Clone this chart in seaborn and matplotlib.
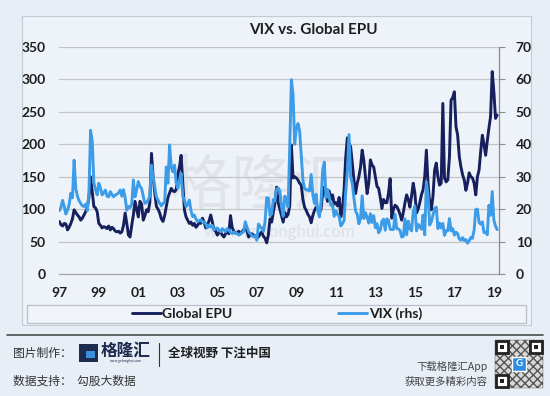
import numpy as np
import pandas as pd
import matplotlib
matplotlib.use("Agg")
import matplotlib.pyplot as plt
from matplotlib.patches import Rectangle
from matplotlib.lines import Line2D
import seaborn as sns

# Monthly values, Jan 1997 - Mar 2019
epu = [
    81, 76, 74, 78, 77, 68, 72, 78, 85, 99, 95, 91,            # 1997
    88, 83, 86, 91, 96, 104, 118, 150, 127, 104, 102, 96,      # 1998
    78, 75, 71, 73, 72, 70, 74, 68, 72, 70, 66, 65,            # 1999
    66, 63, 65, 75, 94, 78, 60, 57, 75, 91, 112, 100,          # 2000
    88, 112, 108, 83, 90, 99, 96, 110, 186, 150, 125, 104,     # 2001
    100, 94, 85, 81, 90, 104, 118, 125, 132, 128, 127, 130,    # 2002
    153, 165, 183, 140, 99, 88, 83, 78, 80, 75, 78, 72,        # 2003
    75, 80, 78, 86, 80, 71, 76, 82, 91, 80, 68, 66,            # 2004
    60, 64, 65, 60, 57, 62, 68, 62, 90, 72, 66, 63,            # 2005
    63, 66, 62, 65, 68, 71, 66, 57, 60, 62, 60, 58,            # 2006
    60, 57, 62, 65, 58, 55, 48, 60, 85, 80, 95, 110,           # 2007
    134, 110, 100, 90, 80, 95, 88, 92, 105, 199, 148, 150,     # 2008
    148, 145, 140, 137, 115, 103, 98, 92, 88, 79, 90, 98,      # 2009
    103, 100, 94, 100, 125, 134, 120, 112, 128, 115, 122, 108, # 2010
    110, 105, 118, 88, 100, 130, 180, 210, 202, 196, 170, 145, # 2011
    124, 140, 150, 165, 191, 175, 150, 124, 140, 176, 168, 165, # 2012
    150, 135, 132, 118, 101, 115, 110, 110, 125, 147, 86, 100, # 2013
    106, 104, 99, 92, 83, 95, 110, 122, 115, 103, 120, 140,    # 2014
    125, 94, 100, 110, 122, 130, 150, 191, 140, 110, 99, 120,  # 2015
    160, 171, 150, 137, 140, 263, 148, 142, 145, 180, 268, 272, # 2016
    281, 227, 214, 181, 165, 153, 145, 129, 140, 156, 150, 148, # 2017
    140, 122, 150, 160, 189, 214, 200, 183, 205, 225, 243, 312, # 2018
    281, 240, 245,                                             # 2019
]
vix = [
    19.5, 20.6, 22.7, 20.8, 18.5, 19.7, 21.5, 24.9, 23.5, 35.1, 26.4, 24.0,  # 1997
    22.6, 21.8, 21.0, 20.8, 21.5, 19.5, 25.0, 44.3, 41.0, 28.1, 26.0, 24.4,  # 1998
    28.0, 26.5, 24.4, 25.0, 25.9, 24.0, 23.8, 25.4, 24.5, 23.8, 24.4, 24.6,  # 1999
    25.0, 25.9, 24.0, 26.0, 23.5, 19.7, 20.8, 20.5, 21.5, 29.0, 23.8, 26.0,  # 2000
    28.5, 27.0, 26.4, 24.0, 21.8, 22.0, 22.8, 24.0, 33.6, 30.0, 26.9, 23.8,  # 2001
    22.8, 21.8, 21.0, 21.8, 22.0, 33.0, 28.0, 39.8, 33.0, 31.5, 33.6, 28.0,  # 2002
    26.4, 29.0, 31.0, 24.0, 22.8, 20.8, 21.5, 22.8, 19.5, 17.7, 18.2, 17.0,  # 2003
    16.1, 16.5, 16.7, 16.0, 16.1, 15.5, 14.2, 15.1, 14.5, 15.0, 13.6, 14.0,  # 2004
    14.2, 13.5, 13.0, 14.0, 13.6, 13.0, 14.0, 13.6, 12.8, 12.5, 13.0, 12.5,  # 2005
    12.5, 12.0, 12.3, 12.8, 13.0, 16.1, 14.5, 13.0, 12.5, 11.8, 11.5, 11.8,  # 2006
    10.4, 15.4, 14.6, 14.2, 13.1, 16.2, 23.5, 23.4, 18.0, 18.5, 22.9, 22.5,  # 2007
    26.2, 26.5, 25.6, 20.8, 17.8, 24.0, 22.9, 20.7, 39.4, 59.9, 55.3, 40.0,  # 2008
    44.8, 46.4, 44.1, 36.5, 28.9, 26.4, 25.9, 26.0, 25.6, 30.7, 24.5, 21.7,  # 2009
    24.6, 19.5, 17.6, 22.1, 32.1, 34.5, 23.5, 26.1, 23.7, 21.2, 21.4, 17.8,  # 2010
    19.5, 18.4, 17.7, 14.8, 15.5, 16.5, 25.3, 31.6, 43.0, 30.0, 27.8, 23.4,  # 2011
    19.4, 18.4, 15.5, 17.2, 24.1, 17.1, 18.9, 17.5, 15.7, 18.6, 15.9, 18.0,  # 2012
    14.3, 15.5, 12.7, 13.5, 16.3, 16.9, 13.5, 17.0, 16.6, 13.8, 13.7, 13.7,  # 2013
    18.4, 14.0, 13.9, 13.4, 11.4, 11.6, 17.0, 12.1, 16.3, 14.0, 13.3, 19.2,  # 2014
    21.0, 13.3, 15.3, 14.6, 13.8, 18.2, 12.1, 28.4, 24.5, 15.1, 16.1, 18.2,  # 2015
    20.2, 20.6, 14.0, 15.7, 14.2, 15.6, 11.9, 13.4, 13.3, 17.1, 13.3, 14.0,  # 2016
    12.0, 12.9, 12.4, 10.8, 10.4, 11.2, 10.3, 10.6, 9.5, 10.2, 11.3, 11.0,   # 2017
    13.5, 19.9, 20.0, 15.9, 15.4, 16.1, 12.8, 12.9, 12.1, 21.2, 18.1, 25.4,  # 2018
    16.6, 14.8, 13.7,                                                        # 2019
]
start_month = "1997-01"
year_ticks = list(range(1997, 2020))
left_ticks = [0, 50, 100, 150, 200, 250, 300, 350]
right_ticks = [0, 10, 20, 30, 40, 50, 60, 70]
series_names = ["Global EPU", "VIX (rhs)"]
title = "VIX vs. Global EPU"

EPU_COLOR = "#16205c"
VIX_COLOR = "#3d9ce8"
TEXT = "#1e1e1e"

sns.set_style("white")
plt.rcParams["font.family"] = ["Lato", "Noto Sans CJK SC", "DejaVu Sans"]
CJK = ["Noto Sans CJK SC", "DejaVu Sans"]

dates = pd.date_range(start_month, periods=len(epu), freq="MS")
df = pd.DataFrame({"date": dates, "epu": epu, "vix": vix})
df["t"] = df["date"].dt.year + (df["date"].dt.month - 1) / 12

W, H = 550, 396


def fx(px):
    return px / W


def fy(py):
    return 1 - py / H


fig = plt.figure(figsize=(W / 100, H / 100), dpi=100)
fig.patch.set_facecolor("#e7eef6")

# chart panel (behind the axes)
fig.patches.append(Rectangle((fx(21.7), fy(325)), (531 - 21.7) / W, (325 - 16) / H,
                             transform=fig.transFigure, facecolor="#eef3f9",
                             edgecolor="#c3cad4", lw=0.8, zorder=-10))

# watermark
fig.text(fx(262), fy(188), "格隆汇", family=CJK, fontsize=44, color="#9a9a9a",
         alpha=0.16, ha="center", va="center", zorder=-5)
fig.text(fx(280), fy(232), "www.gelonghui.com", fontsize=12, weight="bold",
         color="#9a9a9a", alpha=0.16, ha="center", va="center", zorder=-5)

ax = fig.add_axes([fx(59.3), fy(274), (499 - 59.3) / W, (274 - 47) / H])
ax.set_facecolor("none")
sns.lineplot(data=df, x="t", y="epu", ax=ax, color=EPU_COLOR, lw=2.1)

ax2 = ax.twinx()
sns.lineplot(data=df, x="t", y="vix", ax=ax2, color=VIX_COLOR, lw=2.1)

ax.set_xlim(1997, 2019.26)
ax.set_ylim(0, 350)
ax2.set_ylim(0, 70)
ax.set_yticks(left_ticks)
ax2.set_yticks(right_ticks)
ax.set_xticks(year_ticks)
ax.set_xticklabels([f"{y % 100:02d}" if (y - 1997) % 2 == 0 else "" for y in year_ticks])
for a in (ax, ax2):
    a.set_xlabel("")
    a.set_ylabel("")

ax.grid(axis="y", color="#c4c4c4", lw=0.9)
ax.grid(axis="x", visible=False)
ax2.grid(False)

for s in ("top", "left", "right"):
    ax.spines[s].set_visible(False)
ax.spines["bottom"].set_color("#a8a8a8")
ax.spines["bottom"].set_linewidth(0.9)
for s in ("top", "left", "bottom"):
    ax2.spines[s].set_visible(False)
ax2.spines["right"].set_color("#8a8a8a")
ax2.spines["right"].set_linewidth(0.9)

ax.tick_params(axis="y", length=0, pad=10, labelsize=10, labelcolor=TEXT)
ax.tick_params(axis="x", direction="inout", length=5, width=0.8, color="#a8a8a8",
               pad=7, labelsize=10, labelcolor=TEXT)
ax2.tick_params(axis="y", direction="out", length=4, width=0.8, color="#8a8a8a",
                pad=8, labelsize=10, labelcolor=TEXT)
for lab in ax.get_xticklabels() + ax.get_yticklabels() + ax2.get_yticklabels():
    lab.set_fontweight("bold")

fig.text(fx(313), fy(30), title, fontsize=11, weight="bold", color=TEXT,
         ha="center", va="center")

# legend
fig.patches.append(Rectangle((fx(26.7), fy(323)), (526 - 26.7) / W, 18 / H,
                             transform=fig.transFigure, facecolor="#f1f5fa",
                             edgecolor="#b9c0ca", lw=0.9, zorder=-4))
handles = [Line2D([], [], color=EPU_COLOR, lw=2.1), Line2D([], [], color=VIX_COLOR, lw=2.1)]
leg = fig.legend(handles, series_names, loc="center", bbox_to_anchor=(fx(277), fy(314)),
                 ncol=2, frameon=False, fontsize=10, handlelength=2.1,
                 handletextpad=0.1, columnspacing=7.6)
for t in leg.get_texts():
    t.set_fontweight("bold")
    t.set_color(TEXT)

# footer
fig.add_artist(Line2D([fx(7), fx(543)], [fy(335), fy(335)], transform=fig.transFigure,
                      color="#4d4d4d", lw=1.2))
fig.text(fx(13), fy(353), "图片制作：", family=CJK, fontsize=8.5, color="#333333",
         va="center")
fig.patches.append(Rectangle((fx(79), fy(362)), 19 / W, 18 / H, transform=fig.transFigure,
                             facecolor="#1d2b4f", edgecolor="none"))
fig.patches.append(Rectangle((fx(86), fy(358)), 9 / W, 7 / H, transform=fig.transFigure,
                             facecolor="#3d8fe0", edgecolor="none"))
fig.text(fx(101), fy(351), "格隆汇", family=CJK, fontsize=12, weight="bold",
         color="#1d2b4f", va="center")
fig.text(fx(126), fy(361), "www.gelonghui.com", fontsize=2.5, color="#1d2b4f",
         ha="center", va="center")
fig.add_artist(Line2D([fx(159), fx(159)], [fy(343), fy(366)], transform=fig.transFigure,
                      color="#333333", lw=0.8))
fig.text(fx(168), fy(353), "全球视野 下注中国", family=CJK, fontsize=9, weight="bold",
         color="#1e1e1e", va="center")
fig.text(fx(13), fy(381), "数据支持：  勾股大数据", family=CJK, fontsize=8.5,
         color="#333333", va="center")
fig.text(fx(488), fy(366), "下载格隆汇App", family=CJK, fontsize=7.5, color="#444444",
         ha="right", va="center")
fig.text(fx(488), fy(382), "获取更多精彩内容", family=CJK, fontsize=7.5, color="#444444",
         ha="right", va="center")

# QR code placeholder
qx, qy, qs = 495, 340, 48
fig.patches.append(Rectangle((fx(qx), fy(qy + qs)), qs / W, qs / H, transform=fig.transFigure,
                             facecolor="#d8d8d8", edgecolor="#555555", hatch="xxxx", lw=0.3))
for cx, cy in [(qx + 1, qy + 1), (qx + qs - 13, qy + 1), (qx + 1, qy + qs - 13)]:
    fig.patches.append(Rectangle((fx(cx), fy(cy + 12)), 12 / W, 12 / H,
                                 transform=fig.transFigure, facecolor="white",
                                 edgecolor="#222222", lw=2))
    fig.patches.append(Rectangle((fx(cx + 4), fy(cy + 8)), 4 / W, 4 / H,
                                 transform=fig.transFigure, facecolor="#222222",
                                 edgecolor="none"))
fig.patches.append(Rectangle((fx(qx + 17), fy(qy + 31)), 14 / W, 14 / H,
                             transform=fig.transFigure, facecolor="#2f8de4",
                             edgecolor="white", lw=1))
fig.text(fx(qx + 24), fy(qy + 24), "G", fontsize=7, weight="bold", color="white",
         ha="center", va="center")

fig.savefig("out.png", dpi=100, facecolor=fig.get_facecolor())
